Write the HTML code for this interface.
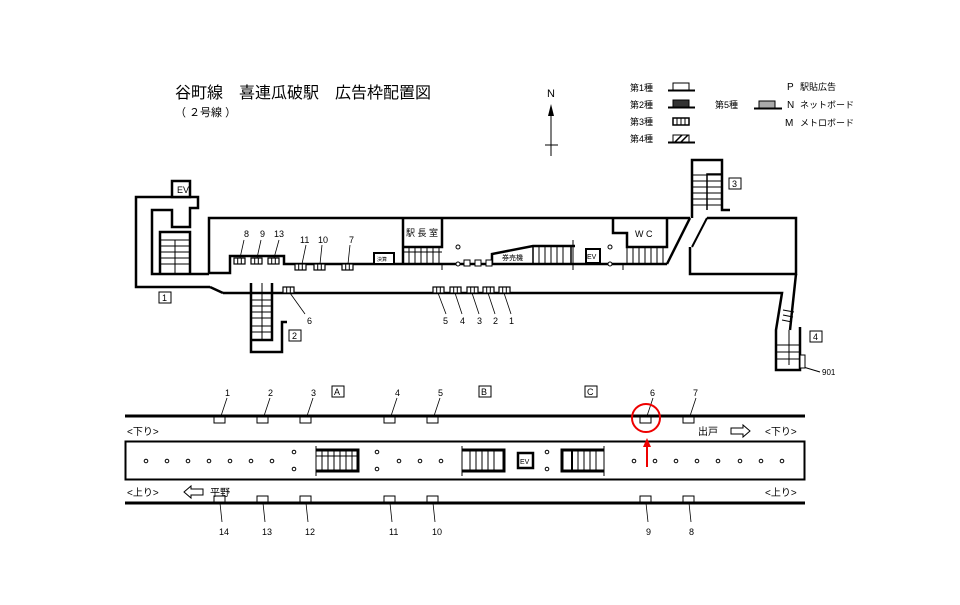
<!DOCTYPE html>
<html><head><meta charset="utf-8"><style>
html,body{margin:0;padding:0;background:#fff}
svg{display:block}
text{font-family:"Liberation Sans","Noto Sans CJK JP",sans-serif;fill:#000}
</style></head><body>
<svg width="960" height="605" viewBox="0 0 960 605" xmlns="http://www.w3.org/2000/svg">
<defs>
<g id="ad3"><rect x="0" y="0" width="11" height="6" fill="#fff" stroke="#000" stroke-width="1.2"/><line x1="3.7" y1="0" x2="3.7" y2="6" stroke="#000"/><line x1="7.3" y1="0" x2="7.3" y2="6" stroke="#000"/></g>
<g id="ad1"><rect x="0" y="0" width="11" height="6" fill="#fff" stroke="#000" stroke-width="1"/></g>
</defs>
<!-- Title -->
<text x="175" y="98" font-size="16">谷町線　喜連瓜破駅　広告枠配置図</text>
<text x="175" y="116" font-size="11">（ ２号線 ）</text>
<!-- North -->
<text x="547" y="97" font-size="11">N</text>
<line x1="551" y1="106" x2="551" y2="156" stroke="#000"/>
<polygon points="551,104 548,116 554,116" fill="#000"/>
<line x1="545" y1="145" x2="558" y2="145" stroke="#000"/>
<!-- Legend -->
<g font-size="9">
<text x="630" y="91">第1種</text><text x="630" y="108">第2種</text><text x="630" y="125">第3種</text><text x="630" y="142">第4種</text>
<text x="715" y="108">第5種</text>
<text x="787" y="90" font-size="10">P</text><text x="800" y="90">駅貼広告</text>
<text x="787" y="108" font-size="10">N</text><text x="800" y="108">ネットボード</text>
<text x="785" y="126" font-size="10">M</text><text x="800" y="126">メトロボード</text>
</g>
<rect x="673" y="83" width="16" height="7" fill="#fff" stroke="#000"/><line x1="668" y1="90.5" x2="695" y2="90.5" stroke="#000" stroke-width="2"/>
<rect x="673" y="100" width="16" height="7" fill="#333" stroke="#000"/><line x1="668" y1="107.5" x2="695" y2="107.5" stroke="#000" stroke-width="2"/>
<g transform="translate(673,118)"><rect width="16" height="7" fill="#fff" stroke="#000" stroke-width="1.5"/><line x1="4" y1="0" x2="4" y2="7" stroke="#000"/><line x1="8" y1="0" x2="8" y2="7" stroke="#000"/><line x1="12" y1="0" x2="12" y2="7" stroke="#000"/></g>
<rect x="673" y="135" width="16" height="7" fill="#fff" stroke="#000"/><line x1="675" y1="142" x2="682" y2="135" stroke="#000" stroke-width="1.5"/><line x1="681" y1="142" x2="688" y2="135" stroke="#000" stroke-width="1.5"/><line x1="668" y1="142.5" x2="695" y2="142.5" stroke="#000" stroke-width="2"/>
<rect x="759" y="101" width="16" height="7" fill="#aaa" stroke="#000"/><line x1="754" y1="108.5" x2="782" y2="108.5" stroke="#000" stroke-width="2"/>

<!-- Station plan -->
<g fill="none" stroke="#000" stroke-width="2.5">
<!-- exit 1 -->
<polyline points="210,287 136,287 136,197 198,197 198,208 190,208 190,227 172,227 172,210 152,210 152,274 209,274"/>
<rect x="172" y="181" width="18" height="16" fill="#fff"/>
<polyline points="160,274 160,232 190,232 190,274"/>
<polyline points="210,287 223,293"/>
<!-- main corridor upper -->
<polyline points="209,274 209,218 690,218"/>
<polyline points="209,273 230,273 230,256 284,256 284,264 667,264"/>
<!-- station office -->
<polyline points="403,264 403,218"/><polyline points="403,247 442,247 442,218"/>
<!-- ticket machine -->
<polyline points="492,264 492,254 533,246 575,246"/>
<!-- WC -->
<polyline points="613,218 613,233 627,233 627,247 667,247 667,218"/>
<line x1="667" y1="264" x2="690" y2="218"/>
<!-- exit 3 -->
<polyline points="692,218 692,160 722,160 722,210 730,210"/>
<line x1="707" y1="218" x2="692" y2="247" stroke-width="2"/>
<polyline points="707,210 707,174 722,174" stroke-width="1.5"/>
<polyline points="690,247 690,274 796,274 796,218 707,218"/>
<!-- lower corridor -->
<polyline points="223,293 782,293 776,330 776,370 800,370 800,327"/>
<polyline points="796,274 790,330"/>
<!-- exit 2 -->
<polyline points="251,283 251,352 282,352 282,322 287,322"/>
<polyline points="272,283 272,340 251,340"/>
</g>
<g stroke="#000" stroke-width="1">
<!-- stairs lines -->
<g id="s1"><line x1="160" y1="240" x2="190" y2="240"/><line x1="160" y1="246" x2="190" y2="246"/><line x1="160" y1="252" x2="190" y2="252"/><line x1="160" y1="258" x2="190" y2="258"/><line x1="160" y1="264" x2="190" y2="264"/><line x1="175" y1="240" x2="175" y2="274"/></g>
<line x1="262" y1="283" x2="262" y2="340"/>
<line x1="251" y1="300" x2="272" y2="300"/><line x1="251" y1="306" x2="272" y2="306"/><line x1="251" y1="312" x2="272" y2="312"/><line x1="251" y1="318" x2="272" y2="318"/><line x1="251" y1="326" x2="272" y2="326"/><line x1="251" y1="332" x2="272" y2="332"/>
<line x1="403" y1="252" x2="442" y2="252"/>
<line x1="409" y1="247" x2="409" y2="264"/><line x1="415" y1="247" x2="415" y2="264"/><line x1="421" y1="247" x2="421" y2="264"/><line x1="427" y1="247" x2="427" y2="264"/><line x1="433" y1="247" x2="433" y2="264"/><line x1="439" y1="247" x2="439" y2="264"/>
<line x1="442" y1="264" x2="442" y2="270"/>
<rect x="533" y="246" width="38" height="18" fill="none" stroke-width="1.5"/>
<line x1="539" y1="246" x2="539" y2="264"/><line x1="545" y1="246" x2="545" y2="264"/><line x1="551" y1="246" x2="551" y2="264"/><line x1="557" y1="246" x2="557" y2="264"/><line x1="563" y1="246" x2="563" y2="264"/>
<line x1="573" y1="240" x2="573" y2="270"/><line x1="623" y1="264" x2="623" y2="270"/>
<line x1="627" y1="247" x2="627" y2="264"/>
<line x1="633" y1="247" x2="633" y2="264"/><line x1="639" y1="247" x2="639" y2="264"/><line x1="645" y1="247" x2="645" y2="264"/><line x1="651" y1="247" x2="651" y2="264"/><line x1="657" y1="247" x2="657" y2="264"/><line x1="663" y1="247" x2="663" y2="264"/>
<line x1="692" y1="175" x2="722" y2="175"/><line x1="692" y1="181" x2="722" y2="181"/><line x1="692" y1="187" x2="722" y2="187"/><line x1="692" y1="193" x2="722" y2="193"/><line x1="692" y1="199" x2="722" y2="199"/><line x1="692" y1="205" x2="722" y2="205"/>
<line x1="783" y1="310" x2="794" y2="312"/><line x1="783" y1="315" x2="793" y2="317"/><line x1="782" y1="320" x2="792" y2="322"/>
<line x1="789" y1="330" x2="789" y2="365"/><line x1="776" y1="345" x2="800" y2="345"/><line x1="776" y1="352" x2="800" y2="352"/><line x1="776" y1="359" x2="800" y2="359"/>
<line x1="800" y1="366" x2="820" y2="372"/>
</g>
<rect x="800" y="355" width="5" height="13" fill="#fff" stroke="#000"/>
<rect x="374" y="253" width="20" height="11" fill="#fff" stroke="#000" stroke-width="2"/>
<text x="377" y="261" font-size="5">決算</text>
<rect x="586" y="249" width="14" height="14" fill="#fff" stroke="#000" stroke-width="2"/>
<text x="587" y="259" font-size="7">EV</text>
<text x="406" y="236" font-size="9">駅 長 室</text>
<text x="502" y="260" font-size="7">券売機</text>
<text x="635" y="237" font-size="9">W C</text>
<text x="177" y="193" font-size="9">EV</text>
<g fill="#fff" stroke="#000" stroke-width="1">
<circle cx="458" cy="247" r="2"/><circle cx="458" cy="264" r="2"/><circle cx="610" cy="247" r="2"/><circle cx="610" cy="264" r="2"/>
<rect x="464" y="260" width="6" height="6"/><rect x="475" y="260" width="6" height="6"/><rect x="486" y="260" width="6" height="6"/>
</g>
<!-- ads top plan -->
<use href="#ad3" x="234" y="258"/><use href="#ad3" x="251" y="258"/><use href="#ad3" x="268" y="258"/>
<use href="#ad3" x="295" y="264"/><use href="#ad3" x="314" y="264"/><use href="#ad3" x="342" y="264"/>
<use href="#ad3" x="283" y="287"/>
<use href="#ad3" x="433" y="287"/><use href="#ad3" x="450" y="287"/><use href="#ad3" x="467" y="287"/><use href="#ad3" x="483" y="287"/><use href="#ad3" x="499" y="287"/>
<g stroke="#000" stroke-width="0.8">
<line x1="244" y1="240" x2="240" y2="258"/><line x1="261" y1="240" x2="257" y2="258"/><line x1="279" y1="240" x2="274" y2="258"/>
<line x1="306" y1="245" x2="302" y2="264"/><line x1="322" y1="245" x2="320" y2="264"/><line x1="350" y1="245" x2="348" y2="264"/>
<line x1="290" y1="293" x2="305" y2="314"/>
<line x1="438" y1="293" x2="446" y2="314"/><line x1="455" y1="293" x2="462" y2="314"/><line x1="472" y1="293" x2="479" y2="314"/><line x1="488" y1="293" x2="495" y2="314"/><line x1="504" y1="293" x2="511" y2="314"/>
</g>
<g font-size="9">
<text x="244" y="237">8</text><text x="260" y="237">9</text><text x="274" y="237">13</text>
<text x="300" y="243">11</text><text x="318" y="243">10</text><text x="349" y="243">7</text>
<text x="307" y="324">6</text>
<text x="443" y="324">5</text><text x="460" y="324">4</text><text x="477" y="324">3</text><text x="493" y="324">2</text><text x="509" y="324">1</text>
<text x="822" y="375" font-size="8">901</text>
</g>
<g font-size="9" fill="none" stroke="#000" stroke-width="1">
<rect x="159" y="292" width="12" height="11"/><rect x="289" y="330" width="12" height="11"/><rect x="729" y="178" width="12" height="11"/><rect x="810" y="331" width="12" height="11"/>
<rect x="332" y="386" width="12" height="11"/><rect x="479" y="386" width="12" height="11"/><rect x="585" y="386" width="12" height="11"/>
</g>
<g font-size="9">
<text x="162" y="301">1</text><text x="292" y="339">2</text><text x="732" y="187">3</text><text x="813" y="340">4</text>
<text x="334" y="395">A</text><text x="481" y="395">B</text><text x="587" y="395">C</text>
</g>

<!-- platform diagram -->
<line x1="125" y1="416" x2="805" y2="416" stroke="#000" stroke-width="3"/>
<line x1="125" y1="503" x2="805" y2="503" stroke="#000" stroke-width="3"/>
<rect x="125.5" y="441.5" width="679" height="38" fill="none" stroke="#000" stroke-width="2"/>
<g id="tads">
<use href="#ad1" x="214" y="417"/><use href="#ad1" x="257" y="417"/><use href="#ad1" x="300" y="417"/><use href="#ad1" x="384" y="417"/><use href="#ad1" x="427" y="417"/><use href="#ad1" x="640" y="417"/><use href="#ad1" x="683" y="417"/>
<use href="#ad1" x="214" y="496"/><use href="#ad1" x="257" y="496"/><use href="#ad1" x="300" y="496"/><use href="#ad1" x="384" y="496"/><use href="#ad1" x="427" y="496"/><use href="#ad1" x="640" y="496"/><use href="#ad1" x="683" y="496"/>
</g>
<g stroke="#000" stroke-width="0.8">
<line x1="227" y1="398" x2="221" y2="416"/><line x1="270" y1="398" x2="264" y2="416"/><line x1="313" y1="398" x2="307" y2="416"/><line x1="397" y1="398" x2="391" y2="416"/><line x1="440" y1="398" x2="434" y2="416"/><line x1="653" y1="398" x2="647" y2="416"/><line x1="696" y1="398" x2="690" y2="416"/>
<line x1="220" y1="503" x2="222" y2="522"/><line x1="263" y1="503" x2="265" y2="522"/><line x1="306" y1="503" x2="308" y2="522"/><line x1="390" y1="503" x2="392" y2="522"/><line x1="433" y1="503" x2="435" y2="522"/><line x1="646" y1="503" x2="648" y2="522"/><line x1="689" y1="503" x2="691" y2="522"/>
</g>
<g font-size="9">
<text x="225" y="396">1</text><text x="268" y="396">2</text><text x="311" y="396">3</text><text x="395" y="396">4</text><text x="438" y="396">5</text><text x="650" y="396">6</text><text x="693" y="396">7</text>
<text x="219" y="535">14</text><text x="262" y="535">13</text><text x="305" y="535">12</text><text x="389" y="535">11</text><text x="432" y="535">10</text><text x="646" y="535">9</text><text x="689" y="535">8</text>
</g>
<g font-size="10">
<text x="127" y="435">&lt;下り&gt;</text>
<text x="765" y="435">&lt;下り&gt;</text>
<text x="698" y="435">出戸</text>
<text x="127" y="496">&lt;上り&gt;</text>
<text x="765" y="496">&lt;上り&gt;</text>
<text x="210" y="496">平野</text>
</g>
<polygon points="731,428 743,428 743,425 750,431 743,437 743,434 731,434" fill="#fff" stroke="#000"/>
<polygon points="203,489 191,489 191,486 184,492 191,498 191,495 203,495" fill="#fff" stroke="#000"/>
<g fill="#fff" stroke="#000" stroke-width="1">
<circle cx="146" cy="461" r="1.8"/><circle cx="167" cy="461" r="1.8"/><circle cx="188" cy="461" r="1.8"/><circle cx="209" cy="461" r="1.8"/><circle cx="230" cy="461" r="1.8"/><circle cx="251" cy="461" r="1.8"/><circle cx="272" cy="461" r="1.8"/>
<circle cx="294" cy="452" r="1.8"/><circle cx="294" cy="469" r="1.8"/>
<circle cx="377" cy="452" r="1.8"/><circle cx="377" cy="469" r="1.8"/>
<circle cx="399" cy="461" r="1.8"/><circle cx="420" cy="461" r="1.8"/><circle cx="441" cy="461" r="1.8"/>
<circle cx="547" cy="452" r="1.8"/><circle cx="547" cy="469" r="1.8"/>
<circle cx="634" cy="461" r="1.8"/><circle cx="655" cy="461" r="1.8"/><circle cx="676" cy="461" r="1.8"/><circle cx="697" cy="461" r="1.8"/><circle cx="718" cy="461" r="1.8"/><circle cx="740" cy="461" r="1.8"/><circle cx="761" cy="461" r="1.8"/><circle cx="782" cy="461" r="1.8"/>
</g>
<!-- escalators -->
<g fill="none" stroke="#000">
<polyline points="316,450 358,450 358,471 316,471" stroke-width="3"/>
<line x1="316" y1="446" x2="316" y2="476" stroke-width="1"/>
<line x1="322" y1="450" x2="322" y2="471"/><line x1="328" y1="450" x2="328" y2="471"/><line x1="334" y1="450" x2="334" y2="471"/><line x1="340" y1="450" x2="340" y2="471"/><line x1="346" y1="450" x2="346" y2="471"/><line x1="352" y1="450" x2="352" y2="471"/>
<line x1="316" y1="456" x2="358" y2="456"/>
<polyline points="462,450 504,450 504,471 462,471" stroke-width="3"/>
<line x1="462" y1="446" x2="462" y2="476"/>
<line x1="470" y1="450" x2="470" y2="471"/><line x1="476" y1="450" x2="476" y2="471"/><line x1="482" y1="450" x2="482" y2="471"/><line x1="488" y1="450" x2="488" y2="471"/><line x1="494" y1="450" x2="494" y2="471"/>
<polyline points="604,450 562,450 562,471 604,471" stroke-width="3"/>
<line x1="604" y1="446" x2="604" y2="476"/>
<line x1="572" y1="450" x2="572" y2="471" stroke-width="2"/><line x1="578" y1="450" x2="578" y2="471"/><line x1="584" y1="450" x2="584" y2="471"/><line x1="590" y1="450" x2="590" y2="471"/><line x1="596" y1="450" x2="596" y2="471"/>
<rect x="518" y="453" width="15" height="15" stroke-width="2.5"/>
</g>
<text x="520" y="464" font-size="7">EV</text>
<!-- red -->
<circle cx="646" cy="418" r="14" fill="none" stroke="#e00" stroke-width="2"/>
<line x1="647" y1="467" x2="647" y2="442" stroke="#e00" stroke-width="2"/>
<polygon points="647,438 643,447 651,447" fill="#e00"/>
</svg>
</body></html>
